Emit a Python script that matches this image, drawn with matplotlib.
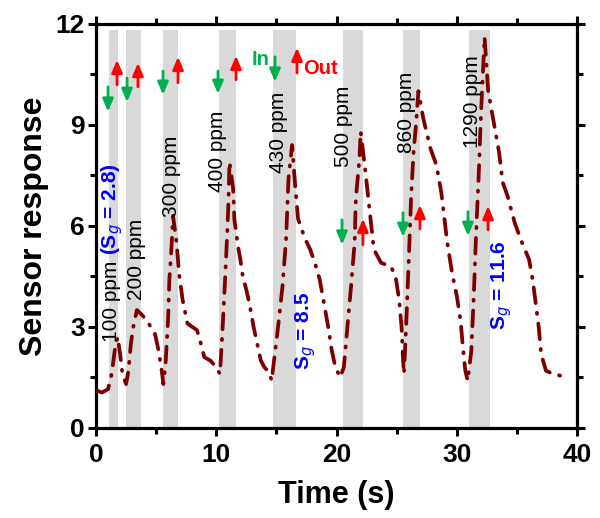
import matplotlib
matplotlib.use("Agg")
import matplotlib.pyplot as plt
from matplotlib.ticker import MultipleLocator

plt.rcParams['font.family'] = ['Liberation Sans', 'DejaVu Sans']

# ---- data ----
time_s = [0.1, 0.5, 1.0, 1.3, 1.6, 1.8, 2.0, 2.2, 2.5, 2.7, 2.9, 3.1, 3.4, 3.7, 4.2, 4.9,
          5.2, 5.5, 5.6, 5.8, 6.0, 6.1, 6.3, 6.4, 6.7, 6.9, 7.2, 7.6, 8.0, 8.4, 8.8, 9.0,
          9.5, 10.0, 10.3, 10.5, 10.7, 10.9, 11.0, 11.1, 11.4, 11.5, 11.8, 12.0, 12.2, 12.5,
          12.8, 13.1, 13.4, 13.7, 14.0, 14.4, 14.6, 14.9, 15.2, 15.5, 15.8, 15.9, 16.0, 16.3,
          16.6, 16.8, 17.4, 17.8, 18.2, 18.6, 19.0, 19.3, 19.6, 19.9, 20.3, 20.6, 20.9, 21.2,
          21.5, 21.6, 21.9, 22.0, 22.4, 22.7, 23.1, 23.7, 24.5, 24.9, 25.2, 25.4, 25.5, 25.6,
          25.8, 26.0, 26.2, 26.4, 26.6, 26.8, 27.2, 27.8, 28.3, 28.7, 29.2, 29.6, 30.0, 30.3,
          30.5, 30.7, 30.9, 31.2, 31.4, 31.6, 31.8, 32.0, 32.3, 32.6, 33.0, 33.5, 33.8, 34.2,
          34.8, 35.3, 36.0, 36.3, 36.8, 37.0, 37.4, 38.0, 39.2]
response = [1.1, 1.05, 1.15, 1.6, 2.4, 2.7, 2.2, 1.6, 1.3, 1.7, 2.5, 3.0, 3.5, 3.4, 3.2, 2.8,
            2.3, 1.6, 1.3, 2.0, 3.3, 4.4, 5.5, 6.3, 5.5, 4.6, 3.8, 3.1, 3.0, 2.9, 2.4, 2.1,
            2.0, 1.8, 1.6, 2.8, 4.2, 5.7, 6.6, 7.9, 7.1, 6.2, 5.4, 5.0, 4.5, 4.1,
            3.6, 3.0, 2.5, 2.0, 1.8, 1.65, 1.4, 2.3, 3.2, 4.2, 5.6, 6.5, 7.4, 8.4,
            7.0, 6.2, 5.6, 5.3, 4.9, 4.4, 3.6, 3.0, 2.3, 1.8, 1.5, 1.8, 3.0, 4.2,
            5.5, 6.8, 8.0, 8.8, 7.6, 6.6, 5.3, 4.9, 4.8, 4.5, 3.8, 3.0, 2.2, 1.6,
            3.2, 5.0, 6.9, 8.2, 9.0, 10.0, 9.2, 8.3, 7.8, 7.0, 5.5, 4.6, 3.9, 3.2,
            2.4, 1.7, 1.4, 2.3, 3.9, 5.8, 7.4, 9.3, 11.6, 10.0, 9.2, 8.2, 7.3, 6.9,
            6.1, 5.6, 5.0, 4.4, 3.0, 2.2, 1.7, 1.6, 1.5]

band_start = [1.08, 2.5, 5.6, 10.2, 14.7, 20.5, 25.5, 31.0]
band_end = [1.83, 3.7, 6.8, 11.6, 16.6, 22.2, 26.9, 32.75]

conc_labels = ["200 ppm", "300 ppm", "400 ppm", "430 ppm", "500 ppm", "860 ppm", "1290 ppm"]
conc_x = [3.33, 6.3, 10.06, 15.2, 20.6, 25.77, 31.26]
conc_y = [3.8, 6.27, 7.0, 7.57, 7.75, 8.17, 8.32]

in_x = [1.0, 2.58, 5.57, 10.14, 14.88, 20.45, 25.52, 30.92]
in_tail = [10.13, 10.39, 10.60, 10.60, 11.02, 6.18, 6.39, 6.42]
in_head = [9.39, 9.68, 9.89, 9.92, 10.28, 5.44, 5.67, 5.70]

out_x = [1.75, 3.49, 6.82, 11.64, 16.71, 22.19, 26.93, 32.59]
out_tail = [10.19, 10.13, 10.25, 10.34, 10.54, 5.44, 5.91, 5.88]
out_head = [10.93, 10.84, 11.02, 11.05, 11.29, 6.21, 6.62, 6.59]

x_ticks = [0, 10, 20, 30, 40]
y_ticks = [0, 3, 6, 9, 12]

# ---- figure ----
fig = plt.figure(figsize=(6.0, 5.18), dpi=100)
ax = fig.add_axes([0.160, 0.174, 0.802, 0.780])

for s, e in zip(band_start, band_end):
    ax.axvspan(s, e, ymin=0, ymax=0.985, color='#d9d9d9', lw=0, zorder=0)

ax.plot(time_s, response, color='#7d0000', lw=2.7,
        linestyle=(0, (4.2, 2.6, 0.3, 2.6)), dash_capstyle='round', zorder=3)

# concentration labels
ax.text(1.33, 2.55, "100 ppm", rotation=90, ha='center', va='bottom',
        fontsize=15, color='black', zorder=4)
ax.text(1.33, 5.12, "(S$_{g}$ = 2.8)", rotation=90, ha='center', va='bottom',
        fontsize=15, color='#0000ff', fontweight='bold', zorder=4)
for lab, x, y in zip(conc_labels, conc_x, conc_y):
    ax.text(x, y, lab, rotation=90, ha='center', va='bottom', fontsize=15,
            color='black', zorder=4)

ax.text(17.46, 1.72, "S$_{g}$ = 8.5", rotation=90, ha='center', va='bottom',
        fontsize=15, color='#0000ff', fontweight='bold', zorder=4)
ax.text(33.75, 2.91, "S$_{g}$ = 11.6", rotation=90, ha='center', va='bottom',
        fontsize=15, color='#0000ff', fontweight='bold', zorder=4)

ax.text(13.72, 10.93, "In", ha='center', va='center', fontsize=14.5,
        color='#00b050', fontweight='bold', zorder=4)
ax.text(18.66, 10.68, "Out", ha='center', va='center', fontsize=14.5,
        color='#ff0000', fontweight='bold', zorder=4)

astyle = '-|>,head_width=0.32,head_length=0.75'
for x, t, h in zip(in_x, in_tail, in_head):
    ax.annotate("", xy=(x, h), xytext=(x, t),
                arrowprops=dict(arrowstyle=astyle, color='#00b050', lw=2.0,
                                shrinkA=0, shrinkB=0, mutation_scale=10), zorder=5)
for x, t, h in zip(out_x, out_tail, out_head):
    ax.annotate("", xy=(x, h), xytext=(x, t),
                arrowprops=dict(arrowstyle=astyle, color='#ff0000', lw=2.0,
                                shrinkA=0, shrinkB=0, mutation_scale=10), zorder=5)

ax.set_xlim(0, 40)
ax.set_ylim(0, 12)
ax.set_xticks(x_ticks)
ax.set_yticks(y_ticks)
ax.xaxis.set_minor_locator(MultipleLocator(5))
ax.yaxis.set_minor_locator(MultipleLocator(1.5))

for sp in ax.spines.values():
    sp.set_linewidth(2.3)

ax.tick_params(which='both', direction='out', top=True, right=True, width=2.2)
ax.tick_params(which='major', length=6, labelsize=19, pad=2)
ax.tick_params(axis='x', which='major', pad=5)
ax.tick_params(which='minor', length=4)
for lab in ax.get_xticklabels() + ax.get_yticklabels():
    lab.set_fontweight('bold')

ax.set_xlabel("Time (s)", fontsize=22, fontweight='bold', labelpad=9)
ax.set_ylabel("Sensor response", fontsize=23, fontweight='bold', labelpad=5)

fig.savefig("out.png", dpi=100)
